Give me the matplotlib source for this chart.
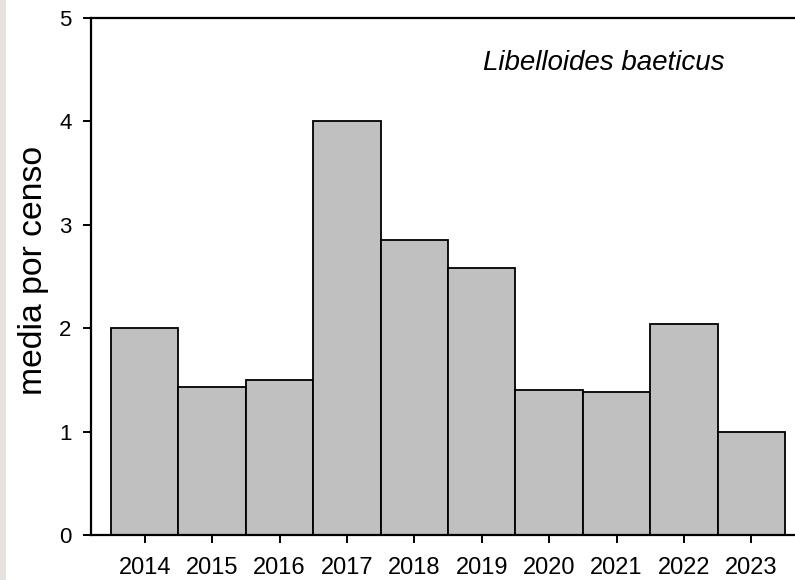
import numpy as np
import matplotlib
matplotlib.use('Agg')
import matplotlib.pyplot as plt
from matplotlib.patches import Rectangle

plt.rcParams['font.family'] = ['Liberation Sans', 'DejaVu Sans']

years = ['2014', '2015', '2016', '2017', '2018', '2019', '2020', '2021', '2022', '2023']
media = [2.0, 1.43, 1.50, 4.0, 2.85, 2.58, 1.40, 1.38, 2.04, 1.0]
y_ticks = [0, 1, 2, 3, 4, 5]

fig = plt.figure(figsize=(7.95, 5.8), dpi=100)
# narrow paper-coloured strip down the left edge
fig.patches.append(Rectangle((0, 0), 6 / 795, 1, transform=fig.transFigure,
                             facecolor='#e6e2de', edgecolor='none', zorder=0))

ax = fig.add_axes([91 / 795, 1 - 535 / 580, 1 - 91 / 795, (535 - 18) / 580])
x = np.arange(len(years))
ax.bar(x, media, width=1.0, color='#c0c0c0', edgecolor='black', linewidth=1.3, zorder=2)

ax.set_xlim(-0.797, 9.648)
ax.set_ylim(0, 5)
ax.set_xticks(x)
ax.set_xticklabels(years)
ax.set_yticks(y_ticks)

ax.spines['right'].set_visible(False)
for s in ('left', 'top', 'bottom'):
    ax.spines[s].set_linewidth(1.6)

ax.tick_params(axis='y', direction='out', length=6, width=1.4, pad=8, labelsize=16)
ax.tick_params(axis='x', direction='out', length=6, width=1.4, pad=9.5, labelsize=17)

fig.text(34 / 795, 1 - 270 / 580, 'media por censo', rotation=90,
         fontsize=24.3, ha='center', va='center')
ax.text(0.557, 0.912, 'Libelloides baeticus', transform=ax.transAxes,
        fontsize=20, style='italic', ha='left', va='center')

fig.savefig('out.png', dpi=100)
